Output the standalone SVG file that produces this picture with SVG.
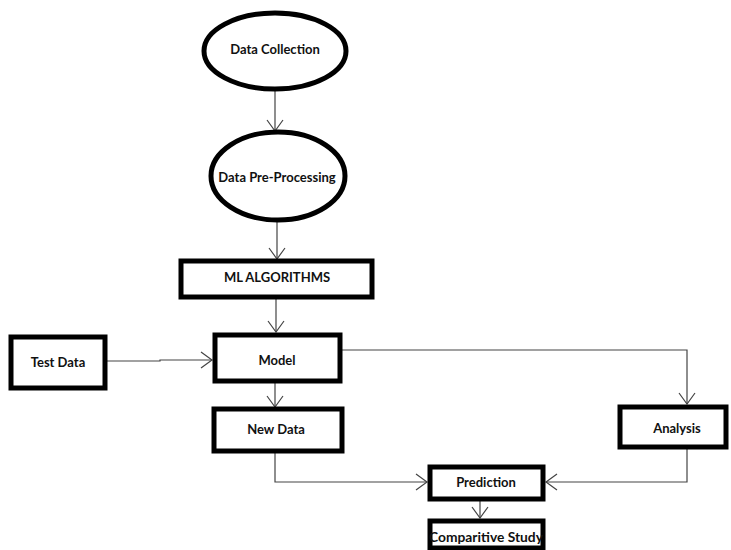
<svg xmlns="http://www.w3.org/2000/svg" width="731" height="550" viewBox="0 0 731 550">
<style>
.n{fill:#fff;stroke:#000;stroke-width:5}
.t{font-family:Lato,"Liberation Sans",sans-serif;font-weight:bold;font-size:13px;fill:#111;text-anchor:middle;dominant-baseline:central}
.c{fill:none;stroke:#444;stroke-width:1.2}
</style>
<defs>
<marker id="a" markerWidth="14" markerHeight="18" refX="12" refY="9" orient="auto" markerUnits="userSpaceOnUse">
<path d="M1,1 L12,9 L1,17" fill="none" stroke="#444" stroke-width="1.2"/>
</marker>
</defs>
<rect width="731" height="550" fill="#fff"/>
<g id="connectors">
<path class="c" d="M275,90 V131" marker-end="url(#a)"/>
<path class="c" d="M277,221 V259" marker-end="url(#a)"/>
<path class="c" d="M276,298 V332" marker-end="url(#a)"/>
<path class="c" d="M106,361 H160 V360 H212" marker-end="url(#a)"/>
<path class="c" d="M275,382 V407" marker-end="url(#a)"/>
<path class="c" d="M342,350 H687 V404" marker-end="url(#a)"/>
<path class="c" d="M275,452 V482 H427" marker-end="url(#a)"/>
<path class="c" d="M687,448 V482 H546" marker-end="url(#a)"/>
<path class="c" d="M480,500 V518" marker-end="url(#a)"/>
</g>
<g id="data-collection">
<ellipse class="n" cx="275" cy="51" rx="71" ry="38"/>
<text class="t" x="275" y="49">Data Collection</text>
</g>
<g id="data-pre-processing">
<ellipse class="n" cx="278" cy="176" rx="67" ry="44"/>
<text class="t" x="277" y="177">Data Pre-Processing</text>
</g>
<g id="ml-algorithms">
<rect class="n" x="181" y="261" width="191" height="36"/>
<text class="t" x="277" y="277">ML ALGORITHMS</text>
</g>
<g id="test-data">
<rect class="n" x="11" y="337" width="94" height="51"/>
<text class="t" x="58" y="362">Test Data</text>
</g>
<g id="model">
<rect class="n" x="215" y="335" width="125" height="46"/>
<text class="t" x="277" y="360">Model</text>
</g>
<g id="new-data">
<rect class="n" x="214" y="409" width="128" height="42"/>
<text class="t" x="276" y="429">New Data</text>
</g>
<g id="analysis">
<rect class="n" x="620" y="407" width="106" height="40"/>
<text class="t" x="677" y="428">Analysis</text>
</g>
<g id="prediction">
<rect class="n" x="430" y="467" width="113" height="32"/>
<text class="t" x="486" y="482">Prediction</text>
</g>
<g id="comparitive-study">
<rect class="n" x="430" y="521" width="113" height="27"/>
<text class="t" x="486" y="536" style="font-size:13.8px">Comparitive Study</text>
</g>
</svg>
